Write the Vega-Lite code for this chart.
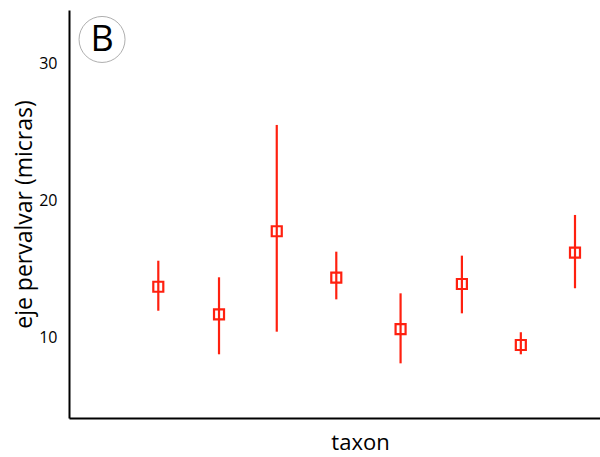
{
  "$schema": "https://vega.github.io/schema/vega-lite/v6.json",
  "width": 531,
  "height": 408,
  "autosize": "none",
  "padding": {"left": 69, "top": 10, "right": 0, "bottom": 39},
  "background": "white",
  "config": {"view": {"stroke": null}, "font": "Open Sans"},
  "datasets": {
    "pts": [
      {"taxon": 1.0, "mean": 13.74, "low": 11.99, "high": 15.64},
      {"taxon": 2.02, "mean": 11.73, "low": 8.81, "high": 14.43},
      {"taxon": 2.99, "mean": 17.79, "low": 10.46, "high": 25.55},
      {"taxon": 3.99, "mean": 14.40, "low": 12.82, "high": 16.30},
      {"taxon": 5.07, "mean": 10.64, "low": 8.15, "high": 13.26},
      {"taxon": 6.10, "mean": 13.94, "low": 11.80, "high": 16.01},
      {"taxon": 7.09, "mean": 9.49, "low": 8.81, "high": 10.42},
      {"taxon": 8.0, "mean": 16.23, "low": 13.63, "high": 18.98}
    ],
    "lab": [{"taxon": 0.055, "mean": 31.79, "text": "B"}]
  },
  "layer": [
    {
      "data": {"name": "pts"},
      "mark": {"type": "rule", "color": "#ff200f", "strokeWidth": 2.2},
      "encoding": {
        "x": {"field": "taxon", "type": "quantitative", "scale": {"domain": [-0.5, 8.42], "nice": false, "zero": false},
          "axis": {"title": "taxon", "labels": false, "ticks": false, "grid": false, "domainColor": "black", "domainWidth": 2, "titleFontSize": 22, "titleFontWeight": "normal", "titlePadding": 14, "titleX": 291, "titleColor": "black"}},
        "y": {"field": "low", "type": "quantitative", "scale": {"domain": [4.16, 33.94], "nice": false, "zero": false},
          "axis": {"title": "eje pervalvar (micras)", "values": [10, 20, 30], "ticks": false, "grid": false, "domainColor": "black", "domainWidth": 2, "labelPadding": 12, "labelFontSize": 16, "labelColor": "black", "titleFontSize": 23, "titleFontWeight": "normal", "titleColor": "black", "titlePadding": 2}},
        "y2": {"field": "high"}
      }
    },
    {
      "data": {"name": "pts"},
      "mark": {"type": "point", "shape": "square", "filled": false, "color": "#ff200f", "strokeWidth": 2.2, "size": 100, "opacity": 1},
      "encoding": {
        "x": {"field": "taxon", "type": "quantitative"},
        "y": {"field": "mean", "type": "quantitative"}
      }
    },
    {
      "data": {"name": "lab"},
      "mark": {"type": "point", "shape": "circle", "filled": false, "color": "#999999", "strokeWidth": 0.8, "size": 2116, "opacity": 1},
      "encoding": {
        "x": {"field": "taxon", "type": "quantitative"},
        "y": {"field": "mean", "type": "quantitative"}
      }
    },
    {
      "data": {"name": "lab"},
      "mark": {"type": "text", "fontSize": 36, "color": "black", "align": "center", "baseline": "middle", "dy": 1},
      "encoding": {
        "x": {"field": "taxon", "type": "quantitative"},
        "y": {"field": "mean", "type": "quantitative"},
        "text": {"field": "text"}
      }
    }
  ]
}
